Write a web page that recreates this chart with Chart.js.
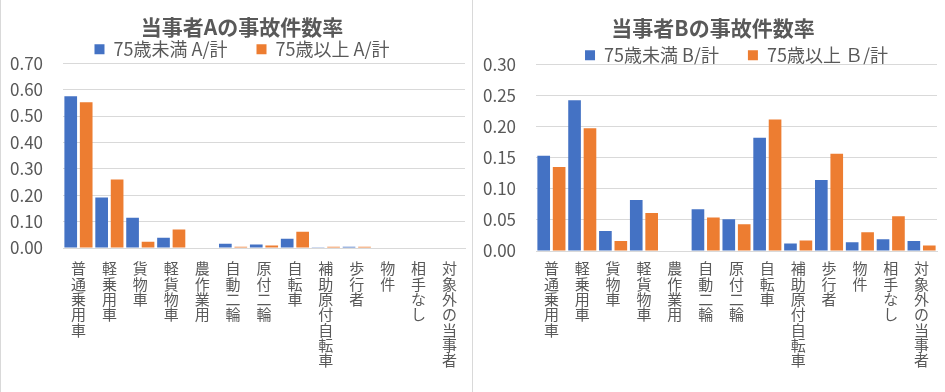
<!DOCTYPE html>
<html lang="ja">
<head>
  <meta charset="UTF-8" />
  <title>当事者別 事故件数率</title>
  <script src="https://cdn.jsdelivr.net/npm/chart.js"></script>
  <style>
    body {
      margin: 0;
      background: #ffffff;
      width: 945px;
      height: 392px;
      overflow: hidden;
      position: relative;
    }

    .panel {
      position: absolute;
      top: 0;
      height: 392px;
      border-left: 1px solid #d9d9d9;
    }

    #panelA { left: 0; width: 471px; }
    #panelB { left: 472px; width: 473px; }
  </style>
</head>
<body>

  <div class="panel" id="panelA"><canvas id="chartA" width="471" height="392"></canvas></div>
  <div class="panel" id="panelB"><canvas id="chartB" width="472" height="392"></canvas></div>

  <script>
    const categories = ['普通乗用車', '軽乗用車', '貨物車', '軽貨物車', '農作業用', '自動二輪', '原付二輪',
      '自転車', '補助原付自転車', '歩行者', '物件', '相手なし', '対象外の当事者'];

    // 当事者A
    const aUnder75 = [0.575, 0.191, 0.115, 0.039, 0, 0.016, 0.013, 0.035, 0.001, 0.005, 0, 0, 0];
    const aOver75 = [0.552, 0.259, 0.024, 0.070, 0, 0.005, 0.009, 0.062, 0.005, 0.005, 0, 0, 0];
    const aTicks = [0, 0.1, 0.2, 0.3, 0.4, 0.5, 0.6, 0.7];

    // 当事者B
    const bUnder75 = [0.153, 0.242, 0.032, 0.082, 0, 0.067, 0.051, 0.182, 0.012, 0.114, 0.014, 0.019, 0.016];
    const bOver75 = [0.135, 0.197, 0.016, 0.061, 0, 0.054, 0.043, 0.211, 0.017, 0.156, 0.030, 0.056, 0.009];
    const bTicks = [0, 0.05, 0.1, 0.15, 0.2, 0.25, 0.3];

    const FONT = "'Noto Sans CJK JP', 'Noto Sans', sans-serif";
    const TEXT = '#595959';
    const BLUE = '#4472C4';
    const ORANGE = '#ED7D31';

    // stack the characters so the labels read top to bottom
    const verticalLabels = categories.map(c => c.split(''));

    function makeChart(id, title, names, under, over, ticks, lay) {
      const ctx = document.getElementById(id).getContext('2d');
      return new Chart(ctx, {
        type: 'bar',
        data: {
          labels: verticalLabels,
          datasets: [
            { label: names[0], data: under, backgroundColor: BLUE, borderWidth: 0 },
            { label: names[1], data: over, backgroundColor: ORANGE, borderWidth: 0 }
          ]
        },
        options: {
          responsive: false,
          animation: false,
          layout: { padding: { left: lay.padLeft, right: lay.padRight, top: 0, bottom: 0 } },
          datasets: {
            bar: { categoryPercentage: 1.0, barPercentage: 0.82 }
          },
          plugins: {
            tooltip: { enabled: false },
            title: {
              display: true,
              text: title,
              color: TEXT,
              font: { family: FONT, size: 21, weight: 'bold', lineHeight: 1.2 },
              padding: { top: lay.titleTop, bottom: lay.titleBottom }
            },
            legend: {
              fullSize: lay.legendFull,
              maxHeight: lay.legendH,
              labels: {
                color: TEXT,
                boxWidth: 10,
                boxHeight: 10,
                padding: 29,
                font: { family: FONT, size: 18 }
              }
            }
          },
          scales: {
            x: {
              grid: { display: false, drawTicks: false },
              border: { display: true, color: '#d9d9d9' },
              ticks: {
                color: TEXT,
                autoSkip: false,
                maxRotation: 0,
                minRotation: 0,
                padding: lay.xPad,
                font: { family: FONT, size: 15, lineHeight: 1.02 }
              },
              afterFit: s => { s.height = lay.xHeight; }
            },
            y: {
              min: 0,
              max: ticks[ticks.length - 1],
              afterBuildTicks: s => { s.ticks = ticks.map(v => ({ value: v })); },
              grid: { color: '#d9d9d9', drawTicks: false },
              border: { display: false },
              ticks: {
                color: TEXT,
                padding: 20,
                font: { family: FONT, size: 17 },
                callback: v => Number(v).toFixed(2)
              },
              afterFit: s => {
                s.width = lay.yWidth;
                // labels are wider than the trimmed axis box, don't clip them
                s._computeLabelArea = () => undefined;
              }
            }
          }
        }
      });
    }

    makeChart('chartA', '当事者Aの事故件数率', ['75歳未満 A/計', '75歳以上 A/計'],
      aUnder75, aOver75, aTicks,
      { padLeft: 18, padRight: 7, titleTop: 14, titleBottom: -28, legendH: 52, legendFull: true,
        xPad: 13, xHeight: 144, yWidth: 44 });
    makeChart('chartB', '当事者Bの事故件数率', ['75歳未満 B/計', '75歳以上 Ｂ/計'],
      bUnder75, bOver75, bTicks,
      { padLeft: 16, padRight: 8, titleTop: 15, titleBottom: -23, legendH: 47, legendFull: false,
        xPad: 10, xHeight: 141, yWidth: 47 });
  </script>
</body>
</html>
